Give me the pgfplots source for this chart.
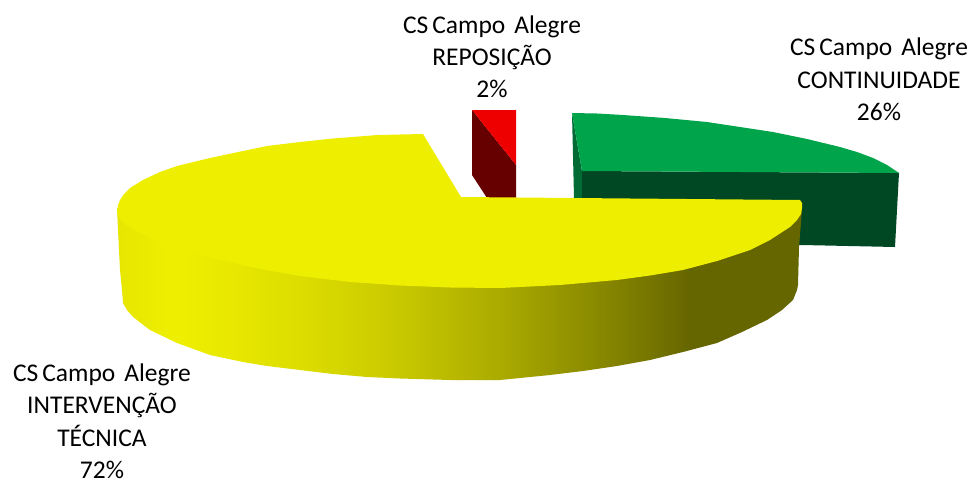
\documentclass[border=0pt]{standalone}
\usepackage{pgfplots}
\pgfplotsset{compat=1.18}
\usepackage{fontspec}
\setmainfont{Carlito}
\definecolor{gtop}{HTML}{00A44A}
\definecolor{gfront}{HTML}{004723}
\definecolor{gleft}{HTML}{006B35}
\definecolor{rtop}{HTML}{EE0000}
\definecolor{rdark}{HTML}{660000}
\definecolor{ytop}{HTML}{EEEE00}
\pgfdeclarehorizontalshading{yside}{100bp}{
 rgb(0bp)=(0.9,0.9,0);
 rgb(25bp)=(0.9,0.9,0);
 rgb(28.5bp)=(0.933,0.933,0);
 rgb(30bp)=(0.933,0.933,0);
 rgb(33bp)=(0.91,0.91,0);
 rgb(38.4bp)=(0.867,0.867,0);
 rgb(45.7bp)=(0.784,0.784,0);
 rgb(53bp)=(0.667,0.667,0);
 rgb(60.3bp)=(0.533,0.533,0);
 rgb(66.8bp)=(0.4,0.4,0);
 rgb(100bp)=(0.4,0.4,0)}
\newcommand{\csca}{CS\hspace{4pt}Campo\hspace{9pt}Alegre}
\begin{document}
\begin{tikzpicture}
\begin{axis}[
  scale only axis, width=970pt, height=482pt,
  xmin=0, xmax=970, ymin=0, ymax=482, y dir=reverse,
  axis lines=none, clip=false,
  every axis plot/.append style={draw=none, mark=none}]
\addplot[fill=white] coordinates {(0,0)(970,0)(970,482)(0,482)};
% green slice, 26%
\addplot[fill=gleft] coordinates {(572,113)(582,171)(582,198)(574,198)};
\addplot[fill=gfront] coordinates {(582,171)(899,173)(895,247)(802,245)(582,245)};
\addplot[fill=gtop] coordinates {(572,113)(597,113.5)(623,115)(665,118)(707,122)(740,127)(773,132)(807,139)(840,147)(857,152)(873,158)(887,165)(899,173)(582,171)};
% red slice, 2%
\addplot[fill=rdark] coordinates {(472,110)(516,165)(516,198)(487,198)(472,175)};
\addplot[fill=rtop] coordinates {(472,110)(516,110)(516,165)};
% yellow slice, 72%
\addplot[shade,shading=yside] coordinates {(117,208)(118,230)(120,270)(122,290)(123,303)(127,310)(133,317)(150,330)(177,343)(210,355)(243,362)(267,366)(300,370)(333,374)(367,377)(400,378.5)(450,380)(500,380)(550,375)(583,371)(617,366)(650,360)(683,352)(717,343)(742,332)(767,320)(782,310)(793,300)(797,290)(798,285)(799,247)(802,210)};
\addplot[fill=ytop] coordinates {(423,134)(461,197)(800,200)(802,203)(802,208)(801,214)(797,220)(790,227)(770,240)(750,250)(717,261)(683,270)(650,275.5)(617,280)(560,285)(500,288)(450,287.5)(400,285.5)(350,282)(300,276)(266,270)(233,263)(200,255)(167,245)(150,238)(135,230)(125,224)(120,219)(118,215)(117,212)(118,205)(120,200)(124,194)(130,188)(143,180)(160,172)(177,166)(210,158)(243,151)(267,146)(300,142)(333,138.5)(378,135)};
% labels
\tikzset{lbl/.style={anchor=base,inner sep=0pt,font=\fontsize{25.5}{30}\selectfont,text=black}}
\node[lbl] at (axis cs:492,33) {\csca};
\node[lbl] at (axis cs:492,65.5) {REPOSIÇÃO};
\node[lbl] at (axis cs:492,97) {2\%};
\node[lbl] at (axis cs:879,55) {\csca};
\node[lbl] at (axis cs:879,88) {CONTINUIDADE};
\node[lbl] at (axis cs:879,120) {26\%};
\node[lbl] at (axis cs:102,381) {\csca};
\node[lbl] at (axis cs:102,413) {INTERVENÇÃO};
\node[lbl] at (axis cs:102,446) {TÉCNICA};
\node[lbl] at (axis cs:102,478) {72\%};
\end{axis}
\end{tikzpicture}
\end{document}
